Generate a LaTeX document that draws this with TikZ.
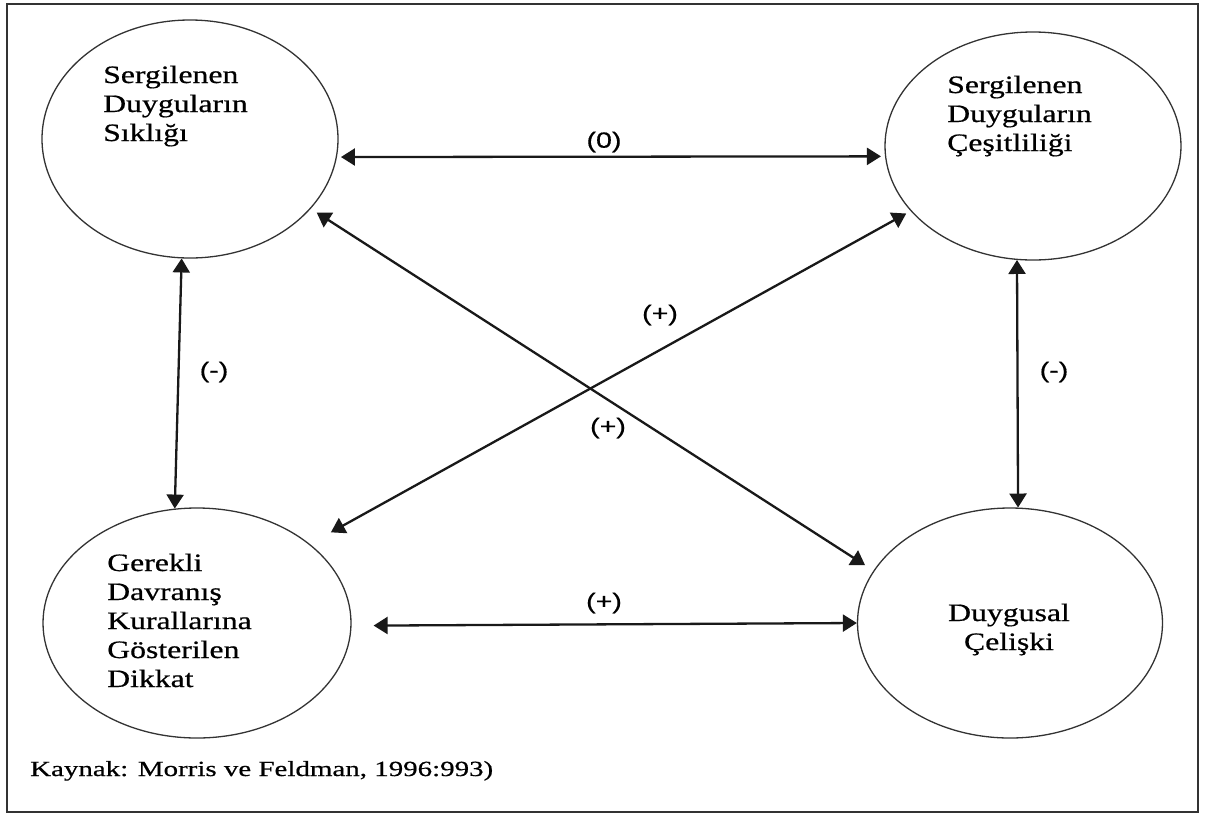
\documentclass[tikz,border=0pt]{standalone}
\usepackage{fontspec}
\setmainfont{Liberation Serif}
\newfontfamily\circlefont[FakeStretch=1.27,FakeBold=0.6]{Liberation Serif}
\newfontfamily\notefont[FakeStretch=1.34,FakeBold=0.6]{Liberation Serif}
\newfontfamily\signfont[FakeStretch=1.3,FakeBold=0.5]{Liberation Sans}
\usetikzlibrary{shapes.geometric,arrows.meta}

\begin{document}
\begin{tikzpicture}[x=1pt,y=-1pt,
  ell/.style={draw=black!80, line width=1.3pt, ellipse, inner sep=0pt},
  ctext/.style={font=\circlefont\fontsize{25}{29}\selectfont, align=left, anchor=base west, inner sep=0pt},
  signlabel/.style={font=\signfont\fontsize{22}{26}\selectfont, inner sep=0pt},
  relarrow/.style={line width=2.3pt, draw=black!90,
    {Triangle[length=14pt,width=17pt]}-{Triangle[length=14pt,width=17pt]}},
]
\useasboundingbox (0,0) rectangle (1205,815);
\fill[white] (0,0) rectangle (1205,815);
\draw[line width=2pt, black!80] (7,4) rectangle (1198,812);

% the four constructs
\node[ell, minimum width=296pt, minimum height=238pt] (tl) at (190,139) {};
\node[ell, minimum width=296pt, minimum height=228pt] (tr) at (1033,146) {};
\node[ell, minimum width=308pt, minimum height=230pt] (bl) at (197,623) {};
\node[ell, minimum width=305pt, minimum height=230pt] (br) at (1010,623) {};

% multi-line texts are placed by the baseline of their last line
\node[ctext] (t1) at (103,141) {Sergilenen\\Duyguların\\Sıklığı};
\node[ctext] (t2) at (947,151) {Sergilenen\\Duyguların\\Çeşitliliği};
\node[ctext] (t3) at (107,687) {Gerekli\\Davranış\\Kurallarına\\Gösterilen\\Dikkat};
\node[ctext, align=center, anchor=base] (t4) at (1009,650) {Duygusal\\Çelişki};

% relations between them
\draw[relarrow, shorten <=4pt, shorten >=4pt] (tl.-7) -- (tr.184);
\draw[relarrow] (tl.266.7) -- (bl.101.2);
\draw[relarrow] (tr.262.5) -- (br.86);
\draw[relarrow, shorten >=22pt] (br.180) -- (bl.-1);
\draw[relarrow, shorten <=7pt, shorten >=10pt] (tl.-30) -- (br.159);
\draw[relarrow, shorten <=24pt, shorten >=5pt] (bl.35.4) -- (tr.208);

\node[signlabel] (s0) at (604,142) {(0)};
\node[signlabel] (sb) at (604,603) {(+)};
\node[signlabel] (sl) at (214,372) {(-)};
\node[signlabel] (sr) at (1054,372) {(-)};
\node[signlabel] (su) at (660,315) {(+)};
\node[signlabel] (sd) at (608,428) {(+)};

\node[font=\notefont\fontsize{21.6}{26}\selectfont, anchor=base west, inner sep=0pt]
  (src) at (30,776) {Kaynak: Morris ve Feldman, 1996:993)};
\end{tikzpicture}
\end{document}
